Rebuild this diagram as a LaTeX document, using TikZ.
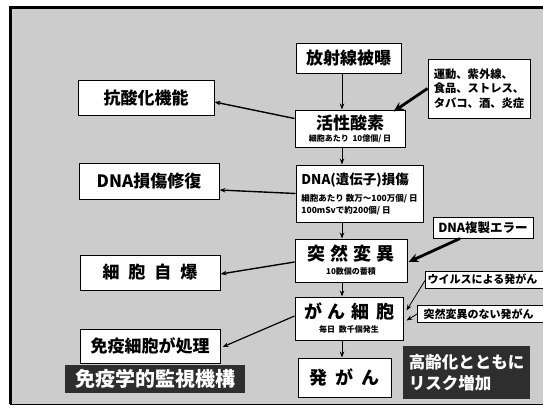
\documentclass[tikz,border=0pt]{standalone}
\usepackage{fontspec}
\setmainfont{Noto Sans CJK JP}
\usetikzlibrary{arrows.meta,calc}
\newcommand\jfs[1]{\fontsize{#1}{#1}\selectfont}
\tikzset{
  box/.style={draw=black, line width=1pt, fill=white, inner sep=0pt, align=center, text=black, font=\bfseries},
  darkbox/.style={fill=black!82, inner sep=0pt, align=left, text=white, font=\bfseries},
  arr/.style={-{Stealth[length=6pt,width=4.5pt]}, line width=1pt},
  tarr/.style={-{Stealth[length=10pt,width=9pt]}, line width=2.8pt},
}
\begin{document}
\begin{tikzpicture}[x=1pt,y=-1pt]
\useasboundingbox (0,0) rectangle (543,407);
\fill[white] (0,0) rectangle (543,407);
\fill[black!20] (10,7) rectangle (543,404);
\draw[line width=3pt] (10,404) -- (10,7) -- (543,7);
\draw[line width=1pt] (10,404) -- (543,404);
\coordinate (vx) at (342,0);

% main column
\node[box, minimum width=105, minimum height=30] (hosha) at (348.5,58) {\jfs{17}放射線被曝};
\node[box, minimum width=110, minimum height=37, font={\fontsize{8}{10}\selectfont\bfseries}] (kassei) at (350,128.5)
  {\jfs{17}\bfseries 活性酸素\\[2pt]細胞あたり\ \ 10億個/ 日};
\node[box, minimum width=127, minimum height=57, align=left, font={\fontsize{8.5}{12}\selectfont\bfseries}] (dnadmg) at (359.5,193.5)
  {\jfs{13.5}\bfseries DNA(遺伝子)損傷\\[5pt]細胞あたり 数万～100万個/ 日\\100mSvで約200個/ 日};
\node[box, minimum width=112, minimum height=43, font={\fontsize{8}{10}\selectfont\bfseries}] (totsu) at (351,260.5)
  {\jfs{18}\bfseries 突\hspace{5pt}然\hspace{5pt}変\hspace{5pt}異\\[4pt]10数個の蓄積};
\node[box, minimum width=108, minimum height=43, font={\fontsize{8}{10}\selectfont\bfseries}] (gan) at (349,318.5)
  {\jfs{18}\bfseries が\hspace{6pt}ん\hspace{6pt}細\hspace{6pt}胞\\[4pt]毎日\ \ 数千個発生};
\node[box, minimum width=93, minimum height=39] (hatsugan) at (344.5,377.5)
  {\jfs{18}発\hspace{8pt}が\hspace{8pt}ん};

% left column
\node[box, minimum width=136, minimum height=35] (kosanka) at (146,97.5) {\jfs{17}抗酸化機能};
\node[box, minimum width=140, minimum height=36] (dnarep) at (149,181) {\jfs{17}DNA損傷修復};
\node[box, minimum width=140, minimum height=35] (jibaku) at (150,272.5)
  {\jfs{17}細\hspace{9pt}胞\hspace{9pt}自\hspace{9pt}爆};
\node[box, minimum width=140, minimum height=34] (meneki) at (150,346) {\jfs{17}免疫細胞が処理};
\node[darkbox, minimum width=180, minimum height=28, align=center] (kanshi) at (155,379)
  {\jfs{20}免疫学的監視機構};

% right column
\node[box, minimum width=102, minimum height=59, align=left, font={\fontsize{11.3}{14.5}\selectfont\bfseries}] (undo) at (479,88.5)
  {運動、紫外線、\\食品、ストレス、\\タバコ、酒、炎症};
\node[box, minimum width=100, minimum height=21] (err) at (483,227.5) {\jfs{12.5}DNA複製エラー};
\node[box, minimum width=120, minimum height=17, anchor=west, align=left] (virus) at (425,279.5)
  {\jfs{11}\hspace{2pt}ウイルスによる発がん\hspace{8pt}};
\node[box, minimum width=128, minimum height=17, anchor=west, align=left] (nomut) at (417,314)
  {\jfs{11}\hspace{2pt}突然変異のない発がん\hspace{8pt}};
\node[darkbox, minimum width=127, minimum height=53, font={\fontsize{16.5}{21}\selectfont\bfseries}] (korei) at (466.5,372.5)
  {高齢化とともに\\リスク増加};

% vertical arrows
\draw[arr] (hosha.south -| vx) -- (kassei.north -| vx);
\draw[arr] (kassei.south -| vx) -- (dnadmg.north -| vx);
\draw[arr] (dnadmg.south -| vx) -- (totsu.north -| vx);
\draw[arr] (totsu.south -| vx) -- (gan.north -| vx);
\draw[arr] (gan.south -| vx) -- (hatsugan.north -| vx);

% left arrows
\draw[arr, line width=1.4pt] ([yshift=10pt]kassei.west) -- ([yshift=-4.5pt]kosanka.east);
\draw[arr, line width=1.4pt] (dnadmg.west) -- ([yshift=-9pt]dnarep.east);
\draw[arr, line width=1.4pt] ([yshift=-1.5pt]totsu.west) -- ([yshift=-1.5pt]jibaku.east);
\draw[arr, line width=1.2pt] ([yshift=2.5pt]gan.west) -- ([xshift=2pt,yshift=-1pt]meneki.east);

% right arrows
\draw[tarr] (undo.west) -- ([xshift=-12pt,yshift=-2pt]kassei.north east);
\draw[tarr] ([xshift=-23pt]err.south) -- ([xshift=1pt,yshift=-1.5pt]totsu.east);
\draw[arr, line width=0.8pt] ([yshift=-1pt]virus.west) -- ([xshift=3pt,yshift=8pt]gan.east);
\draw[arr, line width=0.8pt] (nomut.west) -- ([xshift=3pt,yshift=-2pt]gan.east);
\end{tikzpicture}
\end{document}
